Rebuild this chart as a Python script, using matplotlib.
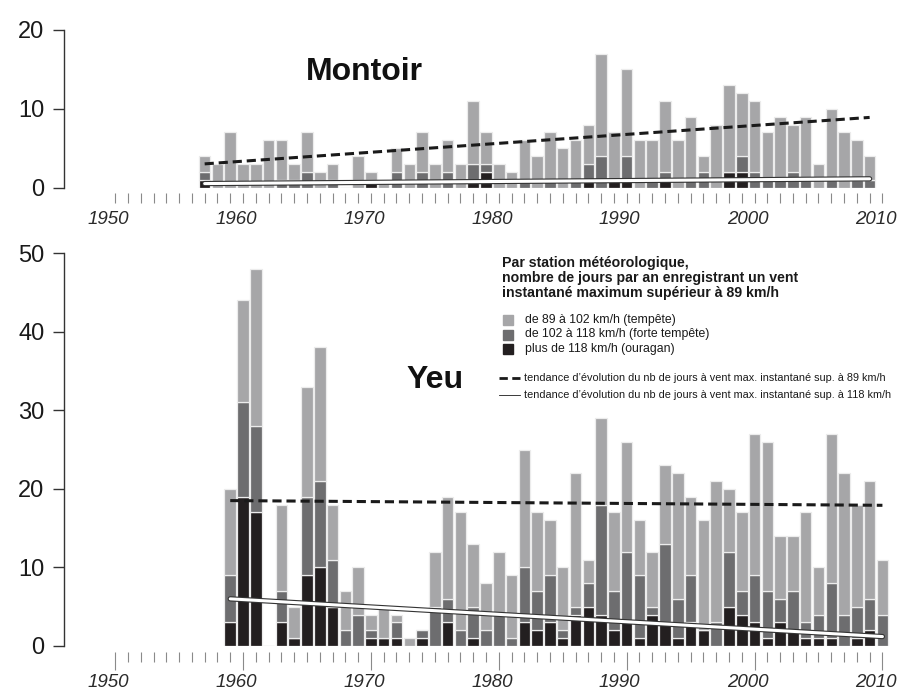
import numpy as np
import matplotlib.pyplot as plt
import matplotlib.patheffects as pe
from matplotlib.patches import Rectangle
from matplotlib.lines import Line2D
from matplotlib.transforms import ScaledTranslation

plt.rcParams['font.family'] = ['Liberation Sans', 'DejaVu Sans']

# Montoir, 1957-2009 : jours par classe de vent (ouragan, forte tempete, tempete)
years_m = np.arange(1957, 2010)
m_dark = [1, 0, 0, 0, 0, 0, 0, 0, 0, 0, 0, 0, 0, 1, 0, 0, 0, 0, 0, 0, 0, 1, 2, 0, 0, 0,
          0, 0, 0, 0, 1, 0, 1, 1, 0, 0, 1, 0, 0, 0, 0, 2, 2, 0, 0, 0, 0, 0, 0, 0, 0, 0, 0]
m_med = [1, 0, 0, 0, 0, 0, 1, 1, 2, 0, 1, 0, 0, 0, 0, 2, 0, 2, 0, 2, 0, 2, 1, 0, 0, 1,
         0, 1, 0, 1, 2, 4, 0, 3, 0, 1, 1, 0, 1, 2, 0, 0, 2, 2, 1, 1, 2, 1, 0, 1, 0, 1, 1]
m_light = [2, 3, 7, 3, 3, 6, 5, 2, 5, 2, 2, 0, 4, 1, 1, 3, 3, 5, 3, 4, 3, 8, 4, 3, 2, 5,
           4, 6, 5, 5, 5, 13, 6, 11, 6, 5, 9, 6, 8, 2, 8, 11, 8, 9, 6, 8, 6, 8, 3, 9, 7, 5, 3]
m_trend89 = [3.0, 8.9]
m_trend118 = [0.5, 1.1]

# Yeu, 1959-2010
years_y = np.arange(1959, 2011)
y_dark = [3, 19, 17, 0, 3, 1, 9, 10, 5, 0, 0, 1, 1, 1, 0, 1, 0, 3, 0, 1, 0, 0, 0, 3, 2, 3,
          1, 4, 5, 4, 2, 3, 1, 4, 3, 1, 3, 2, 0, 5, 4, 3, 1, 3, 2, 1, 1, 1, 0, 1, 2, 0]
y_med = [6, 12, 11, 0, 4, 0, 10, 11, 6, 2, 4, 1, 0, 2, 0, 1, 5, 3, 2, 4, 2, 4, 1, 7, 5, 6,
         1, 1, 3, 14, 5, 9, 8, 1, 10, 5, 6, 0, 3, 7, 3, 6, 6, 3, 5, 2, 3, 7, 4, 4, 4, 4]
y_light = [11, 13, 20, 0, 11, 4, 14, 17, 7, 5, 6, 2, 4, 1, 1, 0, 7, 13, 15, 8, 6, 8, 8, 15, 10, 7,
           8, 17, 3, 11, 10, 14, 7, 7, 10, 16, 10, 14, 18, 8, 10, 18, 19, 8, 7, 14, 6, 19, 18, 13, 15, 7]
y_trend89 = [18.5, 17.9]
y_trend118 = [6.0, 1.2]

decades = [1950, 1960, 1970, 1980, 1990, 2000, 2010]
c_light, c_med, c_dark = '#a6a6a8', '#6d6d6f', '#231f20'

W, H = 917, 690
fig = plt.figure(figsize=(W / 100, H / 100), dpi=100)


def px(x0, y0, x1, y1):
    return [x0 / W, 1 - y1 / H, (x1 - x0) / W, (y1 - y0) / H]


def fx(x):
    return x / W


def fy(y):
    return 1 - y / H


def draw(ax, years, dark, med, light, ymax, yticks, trend89, trend118, big_ticks, lab_pad):
    dark, med, light = np.array(dark), np.array(med), np.array(light)
    kw = dict(width=0.9, edgecolor='#ececec', linewidth=0.9)
    ax.bar(years, dark, color=c_dark, **kw)
    ax.bar(years, med, bottom=dark, color=c_med, **kw)
    ax.bar(years, light, bottom=dark + med, color=c_light, **kw)
    xs = [years[0], years[-1]]
    ax.plot(xs, trend89, color='#1a1a1a', lw=2.2, dashes=(3, 1.6))
    ax.plot(xs, trend118, color='white', lw=2.2, solid_capstyle='round',
            path_effects=[pe.withStroke(linewidth=3.8, foreground='#333333')])
    ax.set_xlim(1946, 2012)
    ax.set_ylim(0, ymax)
    for s in ['top', 'right']:
        ax.spines[s].set_visible(False)
    ax.spines['bottom'].set_position(('outward', 4))
    ax.spines['bottom'].set_visible(False)
    ax.spines['left'].set_color('#333333')
    ax.spines['left'].set_linewidth(1.0)
    ax.set_yticks(yticks)
    ax.tick_params(axis='y', length=8, width=1, color='#333333', labelsize=17,
                   labelcolor='#1a1a1a', pad=6)
    ax.set_xticks(decades)
    ax.set_xticks(np.arange(1950, 2011), minor=True)
    ax.tick_params(axis='x', which='minor', length=7, width=0.8, color='#8a8a8a')
    ax.tick_params(axis='x', which='major', length=big_ticks, width=0.8, color='#8a8a8a',
                   labelsize=13.5, labelcolor='#2a2a2a', pad=lab_pad)
    off = ScaledTranslation(-0.07, 0, fig.dpi_scale_trans)
    for lab in ax.get_xticklabels():
        lab.set_fontstyle('italic')
        lab.set_transform(lab.get_transform() + off)


ax1 = fig.add_axes(px(64, 30, 908, 187.5))
draw(ax1, years_m, m_dark, m_med, m_light, 20, [0, 10, 20], m_trend89, m_trend118, 7, 6)
ax1.text(1969.5, 14.7, 'Montoir', fontsize=23, fontweight='bold', color='#111111',
         ha='center', va='center')

ax2 = fig.add_axes(px(64, 253, 908, 646))
draw(ax2, years_y, y_dark, y_med, y_light, 50, [0, 10, 20, 30, 40, 50], y_trend89, y_trend118, 13, 3)
ax2.text(1975.0, 33.8, 'Yeu', fontsize=23, fontweight='bold', color='#111111',
         ha='center', va='center')

# legende
title_lines = ['Par station météorologique,',
               'nombre de jours par an enregistrant un vent',
               'instantané maximum supérieur à 89 km/h']
for i, t in enumerate(title_lines):
    fig.text(fx(502), fy(263 + i * 15.2), t, fontsize=10.2, fontweight='bold',
             color='#1a1a1a', va='center')

for i, (c, lab) in enumerate([(c_light, 'de 89 à 102 km/h (tempête)'),
                              (c_med, 'de 102 à 118 km/h (forte tempête)'),
                              (c_dark, 'plus de 118 km/h (ouragan)')]):
    yc = 320 + i * 14.5
    fig.add_artist(Rectangle((fx(503), fy(yc + 5)), 10 / W, 10 / H, color=c,
                             transform=fig.transFigure))
    fig.text(fx(525), fy(yc), lab, fontsize=8.8, color='#1a1a1a', va='center')

fig.add_artist(Line2D([fx(499), fx(520)], [fy(378), fy(378)], color='#1a1a1a', lw=2,
                      dashes=(3, 1.6), transform=fig.transFigure))
fig.text(fx(524), fy(378), 'tendance d’évolution du nb de jours à vent max. instantané sup. à 89 km/h',
         fontsize=7.85, color='#1a1a1a', va='center')
fig.add_artist(Line2D([fx(499), fx(520)], [fy(395), fy(395)], color='#1a1a1a', lw=0.6,
                      transform=fig.transFigure))
fig.text(fx(524), fy(395), 'tendance d’évolution du nb de jours à vent max. instantané sup. à 118 km/h',
         fontsize=7.85, color='#1a1a1a', va='center')

fig.savefig('out.png', dpi=100)
